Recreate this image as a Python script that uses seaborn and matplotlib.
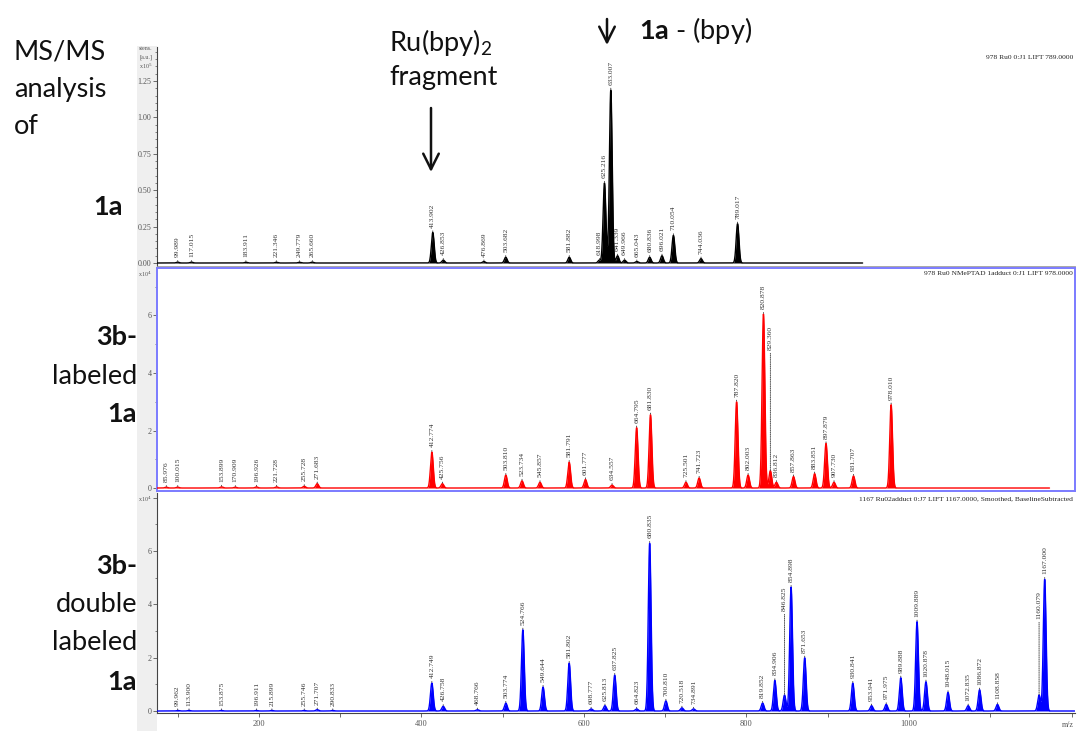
import numpy as np
import pandas as pd
import matplotlib
matplotlib.use("Agg")
import matplotlib.pyplot as plt
import seaborn as sns
from matplotlib.patches import Rectangle, FancyArrowPatch
from matplotlib.ticker import MultipleLocator, FixedLocator, FuncFormatter

# ---------------- data ----------------
# Panel 1: MS/MS of 1a (intensity x10^5)
p1_mz = [99.989, 117.015, 183.911, 221.346, 249.779, 265.660, 413.902, 426.853,
         476.869, 503.682, 581.882, 618.998, 625.216, 633.007, 641.339, 649.966,
         665.043, 680.836, 696.021, 710.054, 744.036, 789.017]
p1_int = [0.006, 0.006, 0.005, 0.005, 0.005, 0.006, 0.21, 0.02,
          0.01, 0.04, 0.04, 0.02, 0.55, 1.19, 0.05, 0.02,
          0.01, 0.04, 0.05, 0.19, 0.03, 0.27]

# Panel 2: 3b-labeled 1a (intensity x10^4)
p2_mz = [85.976, 100.015, 153.899, 170.909, 196.926, 221.728, 255.728, 271.683,
         412.774, 425.756, 503.810, 523.734, 545.857, 581.791, 601.777, 634.557,
         664.795, 681.830, 725.501, 741.723, 787.820, 802.003, 820.878, 829.360,
         836.812, 857.863, 883.851, 897.879, 907.730, 931.707, 978.010]
p2_int = [0.03, 0.03, 0.04, 0.03, 0.04, 0.04, 0.06, 0.15,
          1.25, 0.15, 0.45, 0.25, 0.2, 0.9, 0.3, 0.1,
          2.1, 2.55, 0.2, 0.35, 3.0, 0.45, 6.05, 0.6,
          0.2, 0.4, 0.5, 1.55, 0.2, 0.42, 2.9]

# Panel 3: 3b-double labeled 1a (intensity x10^4)
p3_mz = [99.962, 113.900, 153.875, 196.911, 215.899, 255.746, 271.707, 290.833,
         412.749, 426.758, 468.766, 503.774, 524.766, 549.644, 581.802, 608.777,
         625.813, 637.825, 664.823, 680.835, 700.810, 720.518, 734.891, 819.852,
         834.906, 846.825, 854.898, 871.653, 930.841, 953.941, 971.975, 989.888,
         1009.889, 1020.878, 1048.015, 1072.835, 1086.872, 1108.858, 1160.079, 1167.000]
p3_int = [0.02, 0.02, 0.02, 0.02, 0.02, 0.02, 0.05, 0.02,
          1.05, 0.18, 0.05, 0.3, 3.05, 0.9, 1.8, 0.08,
          0.2, 1.35, 0.08, 6.3, 0.38, 0.12, 0.08, 0.3,
          1.15, 0.6, 4.65, 2.0, 1.05, 0.2, 0.25, 1.25,
          3.35, 1.1, 0.7, 0.2, 0.8, 0.25, 0.6, 4.95]

x_ticks = [200, 400, 600, 800, 1000]
titles = ["978 Ru0 0:J1 LIFT 789.0000",
          "978 Ru0 NMePTAD 1adduct 0:J1 LIFT 978.0000",
          "1167 Ru02adduct 0:J7 LIFT 1167.0000, Smoothed, BaselineSubtracted"]

# ---------------- style ----------------
sns.set_style("white")
plt.rcParams["font.family"] = ["Lato", "DejaVu Sans"]
plt.rcParams["mathtext.fontset"] = "custom"
plt.rcParams["mathtext.rm"] = "Lato"
plt.rcParams["mathtext.bf"] = "Lato:bold"

W, H = 1077, 731
fig = plt.figure(figsize=(W / 100, H / 100), dpi=100)


def fx(x):
    return x / W


def fy(y):
    return 1 - y / H


def rect(x0, y0, x1, y1):
    return [fx(x0), fy(y1), fx(x1) - fx(x0), fy(y0) - fy(y1)]


# gray band behind the y tick labels
fig.patches.append(Rectangle((fx(137), 0), fx(157) - fx(137), fy(46), transform=fig.transFigure,
                             facecolor="#efefef", edgecolor="none", zorder=-10))

XLIM = (74.5, 1204.3)
serif = "Liberation Serif"
lab_col = "#333333"
tick_col = "#555555"

panels = [
    dict(mz=p1_mz, it=p1_int, color="black", rect=rect(157, 47, 1075, 266),
         ylim=(-0.0206, 1.4835), major=0.25, minor=0.05, fmt="{:.2f}", end=943,
         raised={}, maxlab=1.3),
    dict(mz=p2_mz, it=p2_int, color="#ff0000", rect=rect(157, 268, 1075, 491),
         ylim=(-0.104, 7.652), major=2, minor=1, fmt="{:.0f}", end=1173,
         raised={829.360: 4.8}, maxlab=7),
    dict(mz=p3_mz, it=p3_int, color="#0000ff", rect=rect(157, 493, 1075, 713),
         ylim=(-0.075, 8.18), major=2, minor=1, fmt="{:.0f}", end=1204,
         raised={846.825: 3.75, 1160.079: 3.45}, maxlab=7),
]

axes = []
for i, p in enumerate(panels):
    ax = fig.add_axes(p["rect"])
    ax.set_facecolor("none")
    axes.append(ax)
    grid = np.arange(XLIM[0], p["end"], 0.2)
    prof = np.zeros_like(grid)
    for m, h in zip(p["mz"], p["it"]):
        prof += h * np.exp(-0.5 * ((grid - m) / 1.7) ** 2)
    df = pd.DataFrame({"mz": grid, "intensity": prof})
    ax.fill_between(df["mz"], 0, df["intensity"], color=p["color"], lw=0, zorder=2)
    sns.lineplot(data=df, x="mz", y="intensity", ax=ax, color=p["color"], lw=1.0,
                 estimator=None, sort=False, zorder=3)
    ax.set_xlim(*XLIM)
    ax.set_ylim(*p["ylim"])
    ax.set_xlabel("")
    ax.set_ylabel("")
    ax.yaxis.set_major_locator(MultipleLocator(p["major"]))
    ax.yaxis.set_minor_locator(MultipleLocator(p["minor"]))
    ax.yaxis.set_major_formatter(FuncFormatter(
        lambda v, pos, f=p["fmt"], top=p["maxlab"]: f.format(abs(v)) if -1e-9 <= v <= top else ""))
    ax.tick_params(axis="y", which="major", direction="out", length=3, width=0.6,
                   labelsize=5.8, labelcolor=tick_col, color=tick_col, pad=1, left=True,
                   labelleft=True)
    ax.tick_params(axis="y", which="minor", direction="out", length=1.8, width=0.5,
                   color=tick_col, left=True)
    for lbl in ax.get_yticklabels():
        lbl.set_family(serif)
    # peak labels
    for m, h in zip(p["mz"], p["it"]):
        if m in p["raised"]:
            xyt, tc = (m, p["raised"][m]), "data"
        else:
            xyt, tc = (0, 3.5), "offset points"
        ax.annotate(f"{m:.3f}", xy=(m, h), xytext=xyt, textcoords=tc,
                    rotation=90, ha="center", va="bottom", fontsize=5.4, family=serif,
                    color=lab_col, zorder=4,
                    arrowprops=dict(arrowstyle="-", linestyle=(0, (1, 1.2)), lw=0.6,
                                    color="#333333", shrinkA=0, shrinkB=0))
    ax.text(0.998, 0.985 if i else 0.965, titles[i], transform=ax.transAxes, ha="right", va="top",
            fontsize=5.4, family=serif, color="#222222")
    for s in ax.spines.values():
        s.set_linewidth(0.8)
        s.set_color("#444444")

# panel frames
a1, a2, a3 = axes
a1.spines["top"].set_visible(False)
a1.spines["right"].set_visible(False)
a1.spines["bottom"].set_color("#9a9a9a")
a1.spines["bottom"].set_linewidth(0.6)
a1.set_xticks([])
for s in ["top", "bottom", "right", "left"]:
    a2.spines[s].set_color("#7b7bff")
    a2.spines[s].set_linewidth(1.4)
a2.set_xticks([])
a3.spines["top"].set_visible(False)
a3.spines["right"].set_visible(False)
a3.xaxis.set_major_locator(FixedLocator(x_ticks))
a3.xaxis.set_minor_locator(MultipleLocator(100))
a3.tick_params(axis="x", which="major", direction="out", length=3, width=0.6, labelsize=6,
               labelcolor=tick_col, color=tick_col, pad=2, bottom=True)
a3.tick_params(axis="x", which="minor", direction="out", length=3, width=0.6,
               color=tick_col, bottom=True)
for lbl in a3.get_xticklabels():
    lbl.set_family(serif)
fig.text(fx(1068), fy(725), "m/z", ha="center", va="center", fontsize=5.8, family=serif,
         color=tick_col)

# axis unit labels in the gray band
unit_kw = dict(fontsize=4.3, family=serif, color=tick_col, va="center", ha="left")
fig.text(fx(139), fy(48), "stens.", **unit_kw)
fig.text(fx(139), fy(57), "[a.u.]", **unit_kw)
fig.text(fx(139), fy(66), "x10$^{5}$", math_fontfamily="dejavuserif", **unit_kw)
fig.text(fx(138), fy(274), "x10$^{4}$", math_fontfamily="dejavuserif", **unit_kw)
fig.text(fx(138), fy(499), "x10$^{4}$", math_fontfamily="dejavuserif", **unit_kw)

# left-hand description labels
big = 19.5
for txt, y in [("MS/MS", 52), ("analysis", 90), ("of", 127)]:
    fig.text(fx(14), fy(y), txt, fontsize=big, ha="left", va="center", color="#111111")
fig.text(fx(123), fy(207), "1a", fontsize=big, fontweight="bold", ha="right", va="center",
         color="#111111")
for txt, y, bold in [("3b-", 337, True), ("labeled", 376, False), ("1a", 414, True)]:
    fig.text(fx(137), fy(y), txt, fontsize=big, fontweight="bold" if bold else "normal",
             ha="right", va="center", color="#111111")
for txt, y, bold in [("3b-", 566, True), ("double", 605, False), ("labeled", 643, False),
                     ("1a", 682, True)]:
    fig.text(fx(137), fy(y), txt, fontsize=big, fontweight="bold" if bold else "normal",
             ha="right", va="center", color="#111111")

# annotations at top
fig.text(fx(389), fy(43), r"Ru(bpy)$_{\mathregular{2}}$", fontsize=big, ha="left", va="center",
         color="#111111")
fig.text(fx(389), fy(77), "fragment", fontsize=big, ha="left", va="center", color="#111111")
fig.text(fx(639), fy(31), r"$\mathbf{1a}$ - (bpy)", fontsize=big, ha="left", va="center",
         color="#111111")
arrow_kw = dict(arrowstyle="->,head_length=0.8,head_width=0.4", lw=1.8, color="#111111",
                shrinkA=0, shrinkB=0, mutation_scale=14)
fig.add_artist(FancyArrowPatch((fx(431), fy(108)), (fx(431), fy(172)),
                               transform=fig.transFigure, **arrow_kw))
fig.add_artist(FancyArrowPatch((fx(607), fy(19)), (fx(607), fy(45)),
                               transform=fig.transFigure, **arrow_kw))

fig.savefig("out.png", dpi=100)
